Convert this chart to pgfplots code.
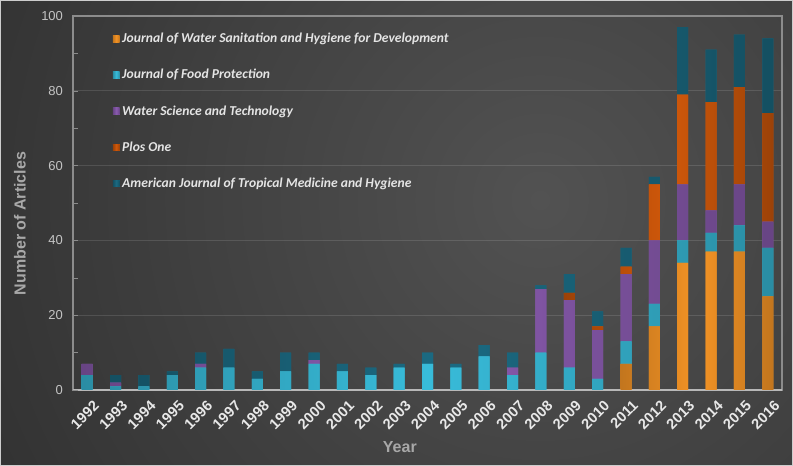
\documentclass[border=0pt]{standalone}
\usepackage{pgfplots}
\usepackage{pgfplotstable}
\pgfplotsset{compat=1.18}
\usepackage{fontspec}
\setmainfont{Liberation Sans}
\newfontfamily\carlito{Carlito}
\definecolor{cJW}{HTML}{F39325}
\definecolor{cJFP}{HTML}{38BCDA}
\definecolor{cWST}{HTML}{8A5BB0}
\definecolor{cPLOS}{HTML}{D0580A}
\definecolor{cAJ}{HTML}{1B6A82}
\definecolor{bgin}{HTML}{525252}
\definecolor{bgout}{HTML}{1E1E1E}
\definecolor{ylab}{HTML}{A8A8A8}
\definecolor{ytl}{HTML}{C4C4C4}
\definecolor{xtl}{HTML}{E8E8E8}
\definecolor{legtext}{HTML}{E4E4E4}
\definecolor{axc}{HTML}{8C8C8C}
\definecolor{basec}{HTML}{B8B8B8}

\pgfplotstableread{
year JW JFP WST PLOS AJ
1992 0 4 3 0 0
1993 0 1 1 0 2
1994 0 1 0 0 3
1995 0 4 0 0 1
1996 0 6 1 0 3
1997 0 6 0 0 5
1998 0 3 0 0 2
1999 0 5 0 0 5
2000 0 7 1 0 2
2001 0 5 0 0 2
2002 0 4 0 0 2
2003 0 6 0 0 1
2004 0 7 0 0 3
2005 0 6 0 0 1
2006 0 9 0 0 3
2007 0 4 2 0 4
2008 0 10 17 0 1
2009 0 6 18 2 5
2010 0 3 13 1 4
2011 7 6 18 2 5
2012 17 6 17 15 2
2013 34 6 15 24 18
2014 37 5 6 29 14
2015 37 7 11 26 14
2016 25 13 7 29 20
}\datatable

\begin{document}
\begin{tikzpicture}
\begin{scope}
\clip (0,0) rectangle (594.75pt,349.5pt);
\fill[bgout] (0,0) rectangle (594.75pt,349.5pt);
\shade[inner color=bgin, outer color=bgout] (-345pt,-550.5pt) rectangle (1155pt,949.5pt);
\end{scope}
\draw[basec!70, line width=1pt] (0.5pt,0.5pt) rectangle (594.25pt,349pt);
\path[use as bounding box] (0,0) rectangle (594.75pt,349.5pt);
\begin{axis}[
  at={(54.75pt,57pt)}, anchor=south west,
  scale only axis, width=531.75pt, height=280.5pt,
  ybar stacked, bar width=8.25pt,
  xmin=1991.5, xmax=2016.5, ymin=0, ymax=100,
  xtick={1992,...,2016},
  ytick={0,20,...,100},
  minor y tick num=1,
  tick align=inside,
  ytick pos=left,
  xtick style={draw=none},
  ytick style={draw=axc},
  major tick length=4pt, minor tick length=4pt,
  axis line style={draw=axc, line width=0.8pt},
  ymajorgrids,
  grid style={draw=white, opacity=0.12, line width=1pt},
  extra y ticks={0},
  extra y tick labels={},
  extra y tick style={grid style={draw=basec, opacity=1, line width=1.3pt}},
  /pgf/number format/assume math mode=true,
  /pgf/number format/1000 sep={},
  xticklabel style={rotate=45, anchor=east, inner sep=0pt, yshift=-12pt, xshift=-2pt,
     font=\bfseries\fontsize{11}{13}\selectfont, text=xtl},
  yticklabel style={font=\fontsize{9.75}{12}\selectfont, text=ytl, xshift=-4pt},
  ylabel={Number of Articles},
  xlabel={Year},
  label style={font=\bfseries\fontsize{12}{14}\selectfont, text=ylab},
  ylabel style={at={(axis description cs:0,0.445)}, anchor=center, yshift=39.75pt},
  xlabel style={at={(axis description cs:0.461,0)}, anchor=center, yshift=-42.75pt},
  legend style={at={(rel axis cs:0.054,0.965)}, anchor=north west, draw=none, fill=none,
     font=\carlito\bfseries\itshape\fontsize{10.2}{12}\selectfont, text=legtext,
     row sep=14.4pt, inner sep=1pt},
  legend cell align=left,
  legend image code/.code={\fill[#1,draw=none] (0pt,-2.5pt) rectangle (5pt,2.5pt);},
  every axis plot/.append style={draw=none},
]
\addplot[fill=cJW, left color=cJW!80!black, right color=cJW!80!black, middle color=cJW] table[x=year,y=JW]{\datatable};
\addplot[fill=cJFP, left color=cJFP!75!black, right color=cJFP!75!black, middle color=cJFP] table[x=year,y=JFP]{\datatable};
\addplot[fill=cWST, left color=cWST!75!black, right color=cWST!75!black, middle color=cWST] table[x=year,y=WST]{\datatable};
\addplot[fill=cPLOS, left color=cPLOS!75!black, right color=cPLOS!75!black, middle color=cPLOS] table[x=year,y=PLOS]{\datatable};
\addplot[fill=cAJ, left color=cAJ!75!black, right color=cAJ!75!black, middle color=cAJ] table[x=year,y=AJ]{\datatable};
\legend{Journal of Water Sanitation and Hygiene for Development, Journal of Food Protection, Water Science and Technology, Plos One, American Journal of Tropical Medicine and Hygiene}
\end{axis}
\end{tikzpicture}
\end{document}
